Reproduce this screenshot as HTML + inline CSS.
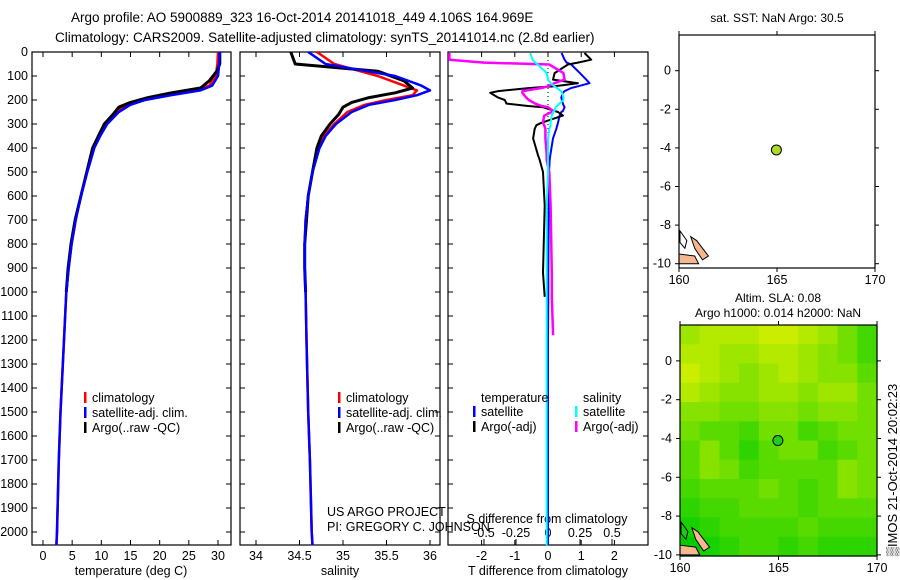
<!DOCTYPE html>
<html><head><meta charset="utf-8"><style>
body{margin:0;background:#fff;}
svg{display:block;font-family:"Liberation Sans",sans-serif;}
</style></head><body>
<svg id="fig" width="900" height="580" xmlns="http://www.w3.org/2000/svg">
<text x="71" y="22" font-size="13.5">Argo profile: AO 5900889_323 16-Oct-2014 20141018_449 4.106S 164.969E</text>
<text x="55" y="42" font-size="13.5">Climatology: CARS2009. Satellite-adjusted climatology: synTS_20141014.nc (2.8d earlier)</text>
<text x="777" y="22" font-size="12" text-anchor="middle">sat. SST: NaN Argo: 30.5</text>
<text x="778" y="302" font-size="12" text-anchor="middle">Altim. SLA: 0.08</text>
<text x="778" y="317" font-size="12" text-anchor="middle">Argo h1000: 0.014 h2000: NaN</text>
<text transform="translate(897,470) rotate(-90)" font-size="13" text-anchor="middle">▒IMOS 21-Oct-2014 20:02:23</text>
<g id="layer"></g>
</svg>
<script>
// ---- data ----
const argoDepth=[0,50,80,120,150,170,190,210,230,260,300,350,400,500,600,700,800,900,1000];
const argoTemp=[30.3,30.3,29.8,28.5,27,22,18,15,13,12,10.5,9.5,8.5,7.5,6.5,5.5,4.8,4.3,4.0];
const argoSal=[34.4,34.45,35.4,35.7,35.8,35.6,35.3,35.1,35.0,34.95,34.85,34.75,34.7,34.65,34.6,34.58,34.56,34.56,34.57];
const climDepth=[0,50,100,140,160,180,200,220,250,300,350,400,500,600,700,800,900,1000,1200,1500,1700,2000,2055];
const climTemp=[30.0,29.9,29.6,28.5,26,21,17,14.5,12.5,10.5,9.5,8.6,7.5,6.5,5.6,4.9,4.4,4.0,3.6,3.0,2.7,2.4,2.3];
const climSal=[34.7,34.9,35.4,35.7,35.85,35.8,35.5,35.25,35.05,34.9,34.78,34.72,34.65,34.6,34.57,34.56,34.56,34.57,34.58,34.6,34.62,34.64,34.65];
const satTemp=[30.3,30.2,30.0,29.0,27,22,17.5,15,13,11,9.8,8.8,7.6,6.5,5.6,4.9,4.4,4.0,3.6,3.0,2.7,2.4,2.3];
const satSal=[34.6,34.8,35.6,35.9,36.0,35.85,35.6,35.3,35.1,34.92,34.8,34.73,34.65,34.6,34.57,34.56,34.56,34.57,34.58,34.6,34.62,34.64,34.65];
const dDepth=[4,32,44,52,88,115,130,143,150,163,170,190,200,215,225,230,246,250,265,295,305,320,360,430,450,500,640,920,1020,1180,2055];
const dTsat=[0.41,0.5,0.56,0.7,0.96,1.15,1.25,0.9,0.7,0.5,0.45,0.4,0.42,0.45,0.48,0.5,0.45,0.4,0.35,0.3,0.28,0.25,0.15,0.07,0.05,0.03,0.02,0.01,0.01,0.0,0.0];
const dTargo=[1.1,1.3,0.9,0.6,0.2,0.15,0.9,0.2,-0.55,-1.5,-1.74,-1.5,-1.3,-1.25,-0.6,-0.15,0.2,0.3,0.45,-0.2,-0.35,-0.4,-0.45,-0.3,-0.25,-0.15,-0.1,-0.15,-0.1,null,null];
const dSsat=[-0.14,-0.12,-0.1,-0.08,-0.01,0.0,0.02,0.05,0.07,0.1,0.11,0.12,0.12,0.09,0.07,0.06,0.05,0.04,0.03,0.02,0.02,0.01,0.0,0.0,0.0,0.0,-0.01,-0.01,-0.01,-0.01,-0.01];
const dSargo=[-0.77,-0.77,-0.5,0.01,0.12,0.13,0.05,0.0,-0.05,-0.2,-0.2,-0.17,-0.15,-0.1,-0.05,0.0,0.04,0.03,-0.03,-0.04,-0.03,-0.02,-0.02,-0.01,-0.01,0.01,0.02,0.03,0.03,0.04,null];
const depthTicks=[0,100,200,300,400,500,600,700,800,900,1000,1100,1200,1300,1400,1500,1600,1700,1800,1900,2000];
const tempTicks=[0,5,10,15,20,25,30];
const salTicks=[34,34.5,35,35.5,36];
const dtTicks=[-2,-1,0,1,2];
const dsTicks=[-0.5,-0.25,0,0.25,0.5];
const lonTicks=[160,165,170];
const latTicks=[0,-2,-4,-6,-8,-10];
const floatLon=[164.969];
const floatLat=[-4.106];
const slaGrid=[
[.7,.8,.8,.8,.9,.9,.8,.7,.5,.3],
[.8,.8,.7,.7,.8,.8,.7,.6,.5,.3],
[.9,.8,.7,.6,.7,.8,.7,.6,.6,.4],
[.8,.7,.6,.6,.7,.7,.6,.7,.7,.5],
[.6,.6,.5,.5,.6,.6,.5,.6,.6,.5],
[.5,.4,.4,.3,.5,.5,.3,.4,.5,.5],
[.4,.6,.4,.2,.4,.5,.5,.3,.4,.5],
[.4,.6,.5,.3,.4,.4,.4,.4,.6,.5],
[.3,.4,.4,.4,.5,.4,.3,.4,.6,.5],
[.2,.3,.3,.4,.4,.4,.3,.4,.4,.4],
[.1,.2,.3,.3,.3,.3,.4,.3,.3,.3],
[.0,.1,.2,.3,.3,.2,.3,.2,.2,.2]];
// ---- drawing ----
const NS="http://www.w3.org/2000/svg";
const L=document.getElementById('layer');
const YB=545;
function el(tag,attrs,txt){const e=document.createElementNS(NS,tag);for(const k in attrs)e.setAttribute(k,attrs[k]);if(txt!==undefined)e.textContent=txt;L.appendChild(e);return e;}
const yD=d=>52+d*0.24;
const P1={x0:32,x1:231,f:v=>43+v*(218-43)/30};
const P2={x0:240,x1:440,f:v=>256+(v-34)*(430-256)/2};
const P3={x0:448,x1:648,ft:v=>548+v*33.2,fs:v=>548+v*128};
function frame(p,name){const r=el('rect',{x:p.x0,y:52,width:p.x1-p.x0,height:YB-52,fill:'none',stroke:'#000','stroke-width':1.2});
}
function line(xs,ys,color,w,name,dash){let pts=[];let segs=[];
for(let i=0;i<xs.length;i++){if(xs[i]==null){if(pts.length)segs.push(pts);pts=[];continue;}pts.push(xs[i].toFixed(1)+','+ys[i].toFixed(1));}
if(pts.length)segs.push(pts);
segs.forEach(s=>{const p=el('polyline',{points:s.join(' '),fill:'none',stroke:color,'stroke-width':w,'stroke-linejoin':'round'});
if(dash)p.setAttribute('stroke-dasharray',dash);
});}
function xticks(p,ticks,f,labels,y,name,top){ticks.forEach((t,i)=>{const x=f(t);
el('line',{x1:x,x2:x,y1:YB,y2:YB-5,stroke:'#000'});
if(top)el('line',{x1:x,x2:x,y1:52,y2:57,stroke:'#000'});
const tx=el('text',{x:x,y:y,'font-size':12.5,'text-anchor':'middle'},labels[i]);
});}
frame(P1,'temperature-panel');frame(P2,'salinity-panel');frame(P3,'difference-panel');
depthTicks.forEach(d=>{const y=yD(d);
[P1,P2,P3].forEach(p=>{el('line',{x1:p.x0,x2:p.x0+5,y1:y,y2:y,stroke:'#000'});el('line',{x1:p.x1,x2:p.x1-5,y1:y,y2:y,stroke:'#000'});});
const t=el('text',{x:28,y:y+4,'font-size':12.5,'text-anchor':'end'},String(d));
});
xticks(P1,tempTicks,P1.f,tempTicks.map(String),560,'temp-tick-label',true);
xticks(P2,salTicks,P2.f,salTicks.map(String),560,'salinity-tick-label',true);
xticks(P3,dtTicks,P3.ft,dtTicks.map(String),560,'dt-tick-label',true);
dsTicks.forEach(t=>{const x=P3.fs(t);el('line',{x1:x,x2:x,y1:YB,y2:YB-6,stroke:'#000'});
const tx=el('text',{x:x,y:537,'font-size':12.5,'text-anchor':'middle'},String(t));
});
[['temperature (deg C)',131,'temp-axis-title'],['salinity',340,'salinity-axis-title'],['T difference from climatology',548,'dt-axis-title']].forEach(a=>{
const t=el('text',{x:a[1],y:575,'font-size':12.5,'text-anchor':'middle'},a[0]);});
{const t=el('text',{x:547,y:523,'font-size':12.5,'text-anchor':'middle'},'S difference from climatology');}
el('line',{x1:548,x2:548,y1:52,y2:YB,stroke:'#000','stroke-dasharray':'1,3'});
line(climTemp.map(P1.f),climDepth.map(yD),'#f00',2.5,'climatology-temp-line');
line(argoTemp.map(P1.f),argoDepth.map(yD),'#000',3,'argo-temp-line');
line(satTemp.map(P1.f),climDepth.map(yD),'#00f',2.5,'satellite-temp-line');
line(climSal.map(P2.f),climDepth.map(yD),'#f00',2.5,'climatology-salinity-line');
line(argoSal.map(P2.f),argoDepth.map(yD),'#000',3,'argo-salinity-line');
line(satSal.map(P2.f),climDepth.map(yD),'#00f',2.5,'satellite-salinity-line');
line(dTsat.map(v=>v==null?null:P3.ft(v)),dDepth.map(yD),'#00f',2,'satellite-t-diff-line');
line(dTargo.map(v=>v==null?null:P3.ft(v)),dDepth.map(yD),'#000',2,'argo-t-diff-line');
line(dSargo.map(v=>v==null?null:P3.fs(v)),dDepth.map(yD),'#f0f',2.5,'argo-s-diff-line');
line(dSsat.map(v=>v==null?null:P3.fs(v)),dDepth.map(yD),'#0ff',2,'satellite-s-diff-line');
function leg(x,y,c,txt,name){if(c)el('rect',{x:x,y:y-10,width:2.5,height:11,fill:c});
const t=el('text',{x:x+8,y:y,'font-size':12.5},txt);}
[[84,'temp'],[338,'salinity']].forEach(a=>{leg(a[0],402,'#f00','climatology','legend-climatology-'+a[1]);
leg(a[0],417,'#00f','satellite-adj. clim.','legend-satellite-'+a[1]);leg(a[0],432,'#000','Argo(..raw -QC)','legend-argo-'+a[1]);});
leg(473,402,null,'temperature','legend-temperature-header');leg(575,402,null,'salinity','legend-salinity-header');
leg(473,416,'#00f','satellite','legend-t-satellite');leg(473,431,'#000','Argo(-adj)','legend-t-argo');
leg(575,416,'#0ff','satellite','legend-s-satellite');leg(575,431,'#f0f','Argo(-adj)','legend-s-argo');
{const t=el('text',{x:327,y:516,'font-size':12.5},'US ARGO PROJECT');
const t2=el('text',{x:327,y:531,'font-size':12.5},'PI: GREGORY C. JOHNSON');}
function map(M,name,heat){
const lx=v=>M.x0+(v-160)*(M.x1-M.x0)/10;
const ly=v=>M.y0+(M.latTop-v)*M.k;
if(heat){const rows=heat.length,cols=heat[0].length;const cw=(M.x1-M.x0)/cols,ch=(M.y1-M.y0)/rows;
heat.forEach((row,r)=>row.forEach((v,c)=>{const R=Math.round(0+v*225),G=Math.round(205+v*35);
const e=el('rect',{x:M.x0+c*cw,y:M.y0+r*ch,width:cw+0.6,height:ch+0.6,fill:`rgb(${R},${G},0)`});
}));}
el('path',{d:`M${lx(160.6)} ${ly(-8.6)} L${lx(160.9)} ${ly(-8.8)} L${lx(161.5)} ${ly(-9.6)} L${lx(161.2)} ${ly(-9.8)} L${lx(160.8)} ${ly(-9.2)} Z`,fill:'#f4b890',stroke:'#000','stroke-width':1});
el('path',{d:`M${lx(160)} ${ly(-9.5)} L${lx(160.8)} ${ly(-9.6)} L${lx(161)} ${ly(-10)} L${lx(160)} ${ly(-10)} Z`,fill:'#f4b890',stroke:'#000','stroke-width':1});
el('path',{d:`M${lx(160.05)} ${ly(-8.3)} L${lx(160.4)} ${ly(-8.8)} L${lx(160.3)} ${ly(-9.2)} L${lx(160.05)} ${ly(-8.9)}Z`,fill:'none',stroke:'#000','stroke-width':1});
const f=el('rect',{x:M.x0,y:M.y0,width:M.x1-M.x0,height:M.y1-M.y0,fill:'none',stroke:'#000','stroke-width':1.2});

lonTicks.forEach(v=>{const x=lx(v);el('line',{x1:x,x2:x,y1:M.y1,y2:M.y1+4,stroke:'#000'});el('line',{x1:x,x2:x,y1:M.y0,y2:M.y0-4,stroke:'#000'});
const t=el('text',{x:x,y:M.y1+16,'font-size':12.5,'text-anchor':'middle'},String(v));});
latTicks.forEach(v=>{const y=ly(v);el('line',{x1:M.x0-4,x2:M.x0,y1:y,y2:y,stroke:'#000'});el('line',{x1:M.x1,x2:M.x1+4,y1:y,y2:y,stroke:'#000'});
const t=el('text',{x:M.x0-8,y:y+4,'font-size':12.5,'text-anchor':'end'},String(v));});
floatLon.forEach((lo,i)=>{const c=el('circle',{cx:lx(lo),cy:ly(floatLat[i]),r:5,fill:heat?'#22cc22':'#aadd22',stroke:'#000','stroke-width':1});
});
}
map({x0:679,x1:875,y0:35,y1:268,latTop:1.85,k:19.3},'sst-map',null);
map({x0:680,x1:877,y0:325,y1:556,latTop:1.85,k:19.4},'sla-map',slaGrid);
</script>
</body></html>
